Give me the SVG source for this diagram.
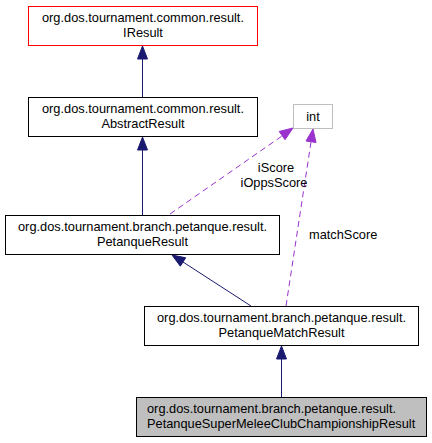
<svg xmlns="http://www.w3.org/2000/svg" width="432" height="443" viewBox="0 0 432 443">
<style>
text{font-family:"Liberation Sans",Arial,sans-serif;font-size:12.8px;fill:#000}
.m{text-anchor:middle}
.box{fill:#fff;stroke:#000;stroke-width:1}
.inh{stroke:#191970;stroke-width:1;fill:none}
.inhh{fill:#191970;stroke:#191970}
.use{stroke:#9a32cd;stroke-width:1;fill:none;stroke-dasharray:6,4}
.useh{fill:#9a32cd;stroke:#9a32cd}
</style>
<rect width="432" height="443" fill="#fff"/>
<g id="edges">
<line class="inh" x1="142.5" y1="59" x2="142.5" y2="97"/>
<polygon class="inhh" points="142.5,46 137.5,59 147.5,59"/>
<line class="inh" x1="142.5" y1="150" x2="142.5" y2="215"/>
<polygon class="inhh" points="142.5,137 137.5,150 147.5,150"/>
<line class="inh" x1="183" y1="262" x2="251" y2="306"/>
<polygon class="inhh" points="172,255 180.3,266.2 185.7,257.8"/>
<line class="inh" x1="281.5" y1="359" x2="281.5" y2="397"/>
<polygon class="inhh" points="281.5,346 276.5,359 286.5,359"/>
<line class="use" x1="170" y1="214" x2="282" y2="136"/>
<polygon class="useh" points="293,128 285,139.7 279.2,131.4"/>
<line class="use" x1="286" y1="306" x2="311" y2="142"/>
<polygon class="useh" points="313,129 316,142.5 306,141"/>
<text class="m" x="276" y="172">iScore</text>
<text class="m" x="274" y="187">iOppsScore</text>
<text x="309" y="239">matchScore</text>
</g>
<g id="IResult">
<rect x="28.5" y="6.5" width="229" height="39" fill="#fff" stroke="#ff0000"/>
<text class="m" x="143" y="22">org.dos.tournament.common.result.</text>
<text class="m" x="143" y="37">IResult</text>
</g>
<g id="AbstractResult">
<rect class="box" x="28.5" y="97.5" width="229" height="39"/>
<text class="m" x="143" y="113">org.dos.tournament.common.result.</text>
<text class="m" x="143" y="128">AbstractResult</text>
</g>
<g id="int">
<rect x="293.5" y="104.5" width="39" height="24" fill="#fff" stroke="#bfbfbf"/>
<text class="m" x="313" y="121">int</text>
</g>
<g id="PetanqueResult">
<rect class="box" x="5.5" y="215.5" width="274" height="39"/>
<text class="m" x="142.5" y="231">org.dos.tournament.branch.petanque.result.</text>
<text class="m" x="142.5" y="246">PetanqueResult</text>
</g>
<g id="PetanqueMatchResult">
<rect class="box" x="144.5" y="306.5" width="274" height="39"/>
<text class="m" x="281.5" y="322">org.dos.tournament.branch.petanque.result.</text>
<text class="m" x="281.5" y="337">PetanqueMatchResult</text>
</g>
<g id="PetanqueSuperMeleeClubChampionshipResult">
<rect x="136.5" y="397.5" width="290" height="39" fill="#bfbfbf" stroke="#000"/>
<text x="147" y="413">org.dos.tournament.branch.petanque.result.</text>
<text x="147" y="428">PetanqueSuperMeleeClubChampionshipResult</text>
</g>
</svg>
